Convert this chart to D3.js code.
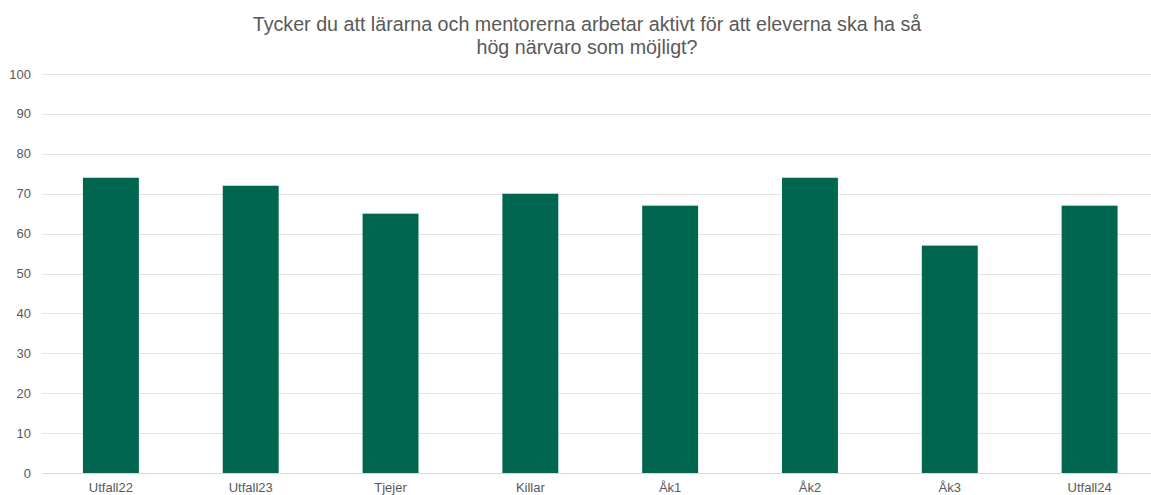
<!DOCTYPE html>
<html>
<head>
<meta charset="utf-8">
<script src="https://cdn.jsdelivr.net/npm/d3@7"></script>
<style>
  body { margin: 0; background: #fff; }
  text { font-family: "Liberation Sans", Arial, sans-serif; }
</style>
</head>
<body>
<script>
var w = 1151;
var h = 495;

var categories = ["Utfall22", "Utfall23", "Tjejer", "Killar", "Åk1", "Åk2", "Åk3", "Utfall24"];
var values = [74, 72, 65, 70, 67, 74, 57, 67];
var yTicks = [0, 10, 20, 30, 40, 50, 60, 70, 80, 90, 100];
var titleLines = ["Tycker du att lärarna och mentorerna arbetar aktivt för att eleverna ska ha så",
                  "hög närvaro som möjligt?"];

var svg = d3.select("body")
            .append("svg")
            .attr("width", w)
            .attr("height", h);

// plot runs a bit past the right edge, like the original export
var x = d3.scaleBand()
          .domain(categories)
          .range([41, 1159.5])
          .paddingInner(0.6)
          .paddingOuter(0.3);

var y = d3.scaleLinear()
          .domain([0, 100])
          .range([473, 74]);

// gridlines
svg.append("g")
   .selectAll("line")
   .data(yTicks)
   .enter()
   .append("line")
   .attr("x1", 42)
   .attr("x2", w)
   .attr("y1", function(d){ return Math.round(y(d)) + 0.5; })
   .attr("y2", function(d){ return Math.round(y(d)) + 0.5; })
   .attr("stroke", function(d){ return d === 0 ? "#d9d9d9" : "#e3e3e3"; })
   .attr("stroke-width", 1);

// y tick labels
svg.append("g")
   .selectAll("text")
   .data(yTicks)
   .enter()
   .append("text")
   .attr("x", 31)
   .attr("y", function(d){ return y(d) + 4.5; })
   .attr("text-anchor", "end")
   .style("font-size", "13px")
   .style("fill", "#595959")
   .text(function(d){ return d; });

// bars
svg.append("g")
   .selectAll("rect")
   .data(values)
   .enter()
   .append("rect")
   .attr("x", function(d, i){ return x(categories[i]); })
   .attr("width", x.bandwidth())
   .attr("y", function(d){ return y(d); })
   .attr("height", function(d){ return y(0) - y(d); })
   .attr("fill", "#00664f");

// x labels
svg.append("g")
   .selectAll("text")
   .data(categories)
   .enter()
   .append("text")
   .attr("x", function(d){ return x(d) + x.bandwidth() / 2; })
   .attr("y", 492)
   .attr("text-anchor", "middle")
   .style("font-size", "13px")
   .style("fill", "#595959")
   .text(function(d){ return d; });

// title
svg.append("g")
   .selectAll("text")
   .data(titleLines)
   .enter()
   .append("text")
   .attr("x", 587)
   .attr("y", function(d, i){ return 31 + i * 23; })
   .attr("text-anchor", "middle")
   .style("font-size", "19.7px")
   .style("fill", "#595959")
   .text(function(d){ return d; });
</script>
</body>
</html>
